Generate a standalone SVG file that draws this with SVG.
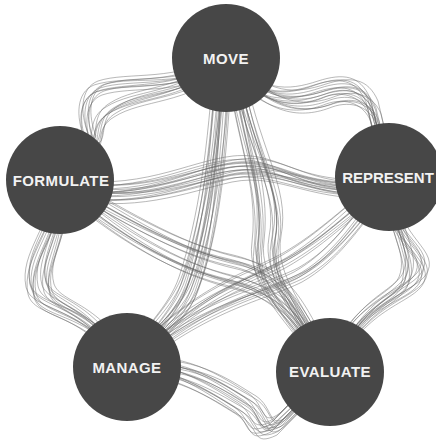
<svg xmlns="http://www.w3.org/2000/svg" xmlns:xlink="http://www.w3.org/1999/xlink" width="436" height="442" viewBox="0 0 436 442">
<style>
.ln{fill:none;stroke:#666;stroke-width:0.55;stroke-opacity:0.85;stroke-linecap:round}
.node circle{fill:#474747}
.node text{font-family:"Liberation Sans","DejaVu Sans",Arial,sans-serif;font-weight:bold;font-size:15px;fill:#f2f2f2;text-anchor:middle;letter-spacing:0.4px}
</style>
<defs>
<g id="bundles" class="ln">
<path id="b1a" d="M226,60 C180,90 130,78 100,88 C82,95 82,120 90,140 L62,180"/>
<path id="b1b" d="M226,62 C185,98 140,92 112,110 C95,120 100,135 95,145 L62,180"/>
<path id="b2a" d="M226,60 C262,100 290,98 320,88 C345,80 362,82 372,105 L389,177"/>
<path id="b2b" d="M226,60 C265,110 300,112 330,100 C350,93 368,100 375,118 L389,177"/>
<path id="b3a" d="M60,185 C140,200 190,168 235,163 C285,158 300,195 389,185"/>
<path id="b3b" d="M60,190 C130,208 185,185 230,175 C280,165 310,198 389,190"/>
<path id="b4a" d="M220,60 C214,150 205,220 185,280 C175,310 150,330 127,367"/>
<path id="b4b" d="M226,60 C222,150 215,230 195,285 C185,315 160,330 127,367"/>
<path id="b5a" d="M236,60 C250,150 285,190 275,240 C268,280 300,310 330,372"/>
<path id="b5b" d="M232,60 C240,140 265,185 258,245 C252,285 290,315 330,372"/>
<path id="b6a" d="M60,182 C58,230 25,255 32,290 C38,315 85,305 127,367"/>
<path id="b6b" d="M62,182 C68,235 40,260 48,288 C55,308 95,305 127,367"/>
<path id="b7a" d="M60,180 C130,220 180,250 235,262 C275,272 295,290 330,372"/>
<path id="b7b" d="M60,185 C120,235 170,265 225,280 C265,290 290,300 330,372"/>
<path id="b8a" d="M389,180 C345,215 320,240 285,260 C245,282 200,290 127,367"/>
<path id="b8b" d="M389,180 C355,225 335,255 300,275 C260,295 210,300 127,367"/>
<path id="b9a" d="M389,177 C385,240 432,250 422,275 C412,298 360,298 330,372"/>
<path id="b9b" d="M389,177 C392,235 415,255 405,280 C395,300 355,305 330,372"/>
<path id="b10a" d="M127,367 C185,355 225,385 250,400 C268,412 262,435 282,420 L330,372"/>
<path id="b10b" d="M127,367 C180,370 215,395 240,410 C258,422 250,440 275,428 L330,372"/>
</g>
</defs>
<g id="connectors">
<use href="#bundles"/>
<use href="#bundles" transform="translate(4,3)"/>
<use href="#bundles" transform="translate(-4,4)"/>
<use href="#bundles" transform="translate(6,-4)"/>
<use href="#bundles" transform="translate(-6,-3)"/>
<use href="#bundles" transform="translate(2,7)"/>
<use href="#bundles" transform="translate(-2,-7)"/>
<use href="#bundles" transform="rotate(1.8 218 221)"/>
<use href="#bundles" transform="rotate(-1.8 218 221)"/>
</g>
<g id="node-move" class="node"><circle cx="226" cy="58" r="54"/><text x="226" y="64">MOVE</text></g>
<g id="node-formulate" class="node"><circle cx="60" cy="180" r="54"/><text x="61" y="186">FORMULATE</text></g>
<g id="node-represent" class="node"><circle cx="389" cy="177" r="54"/><text x="388" y="183" style="letter-spacing:0">REPRESENT</text></g>
<g id="node-manage" class="node"><circle cx="127" cy="367" r="54"/><text x="127" y="373">MANAGE</text></g>
<g id="node-evaluate" class="node"><circle cx="330" cy="372" r="54"/><text x="330" y="377">EVALUATE</text></g>
</svg>
